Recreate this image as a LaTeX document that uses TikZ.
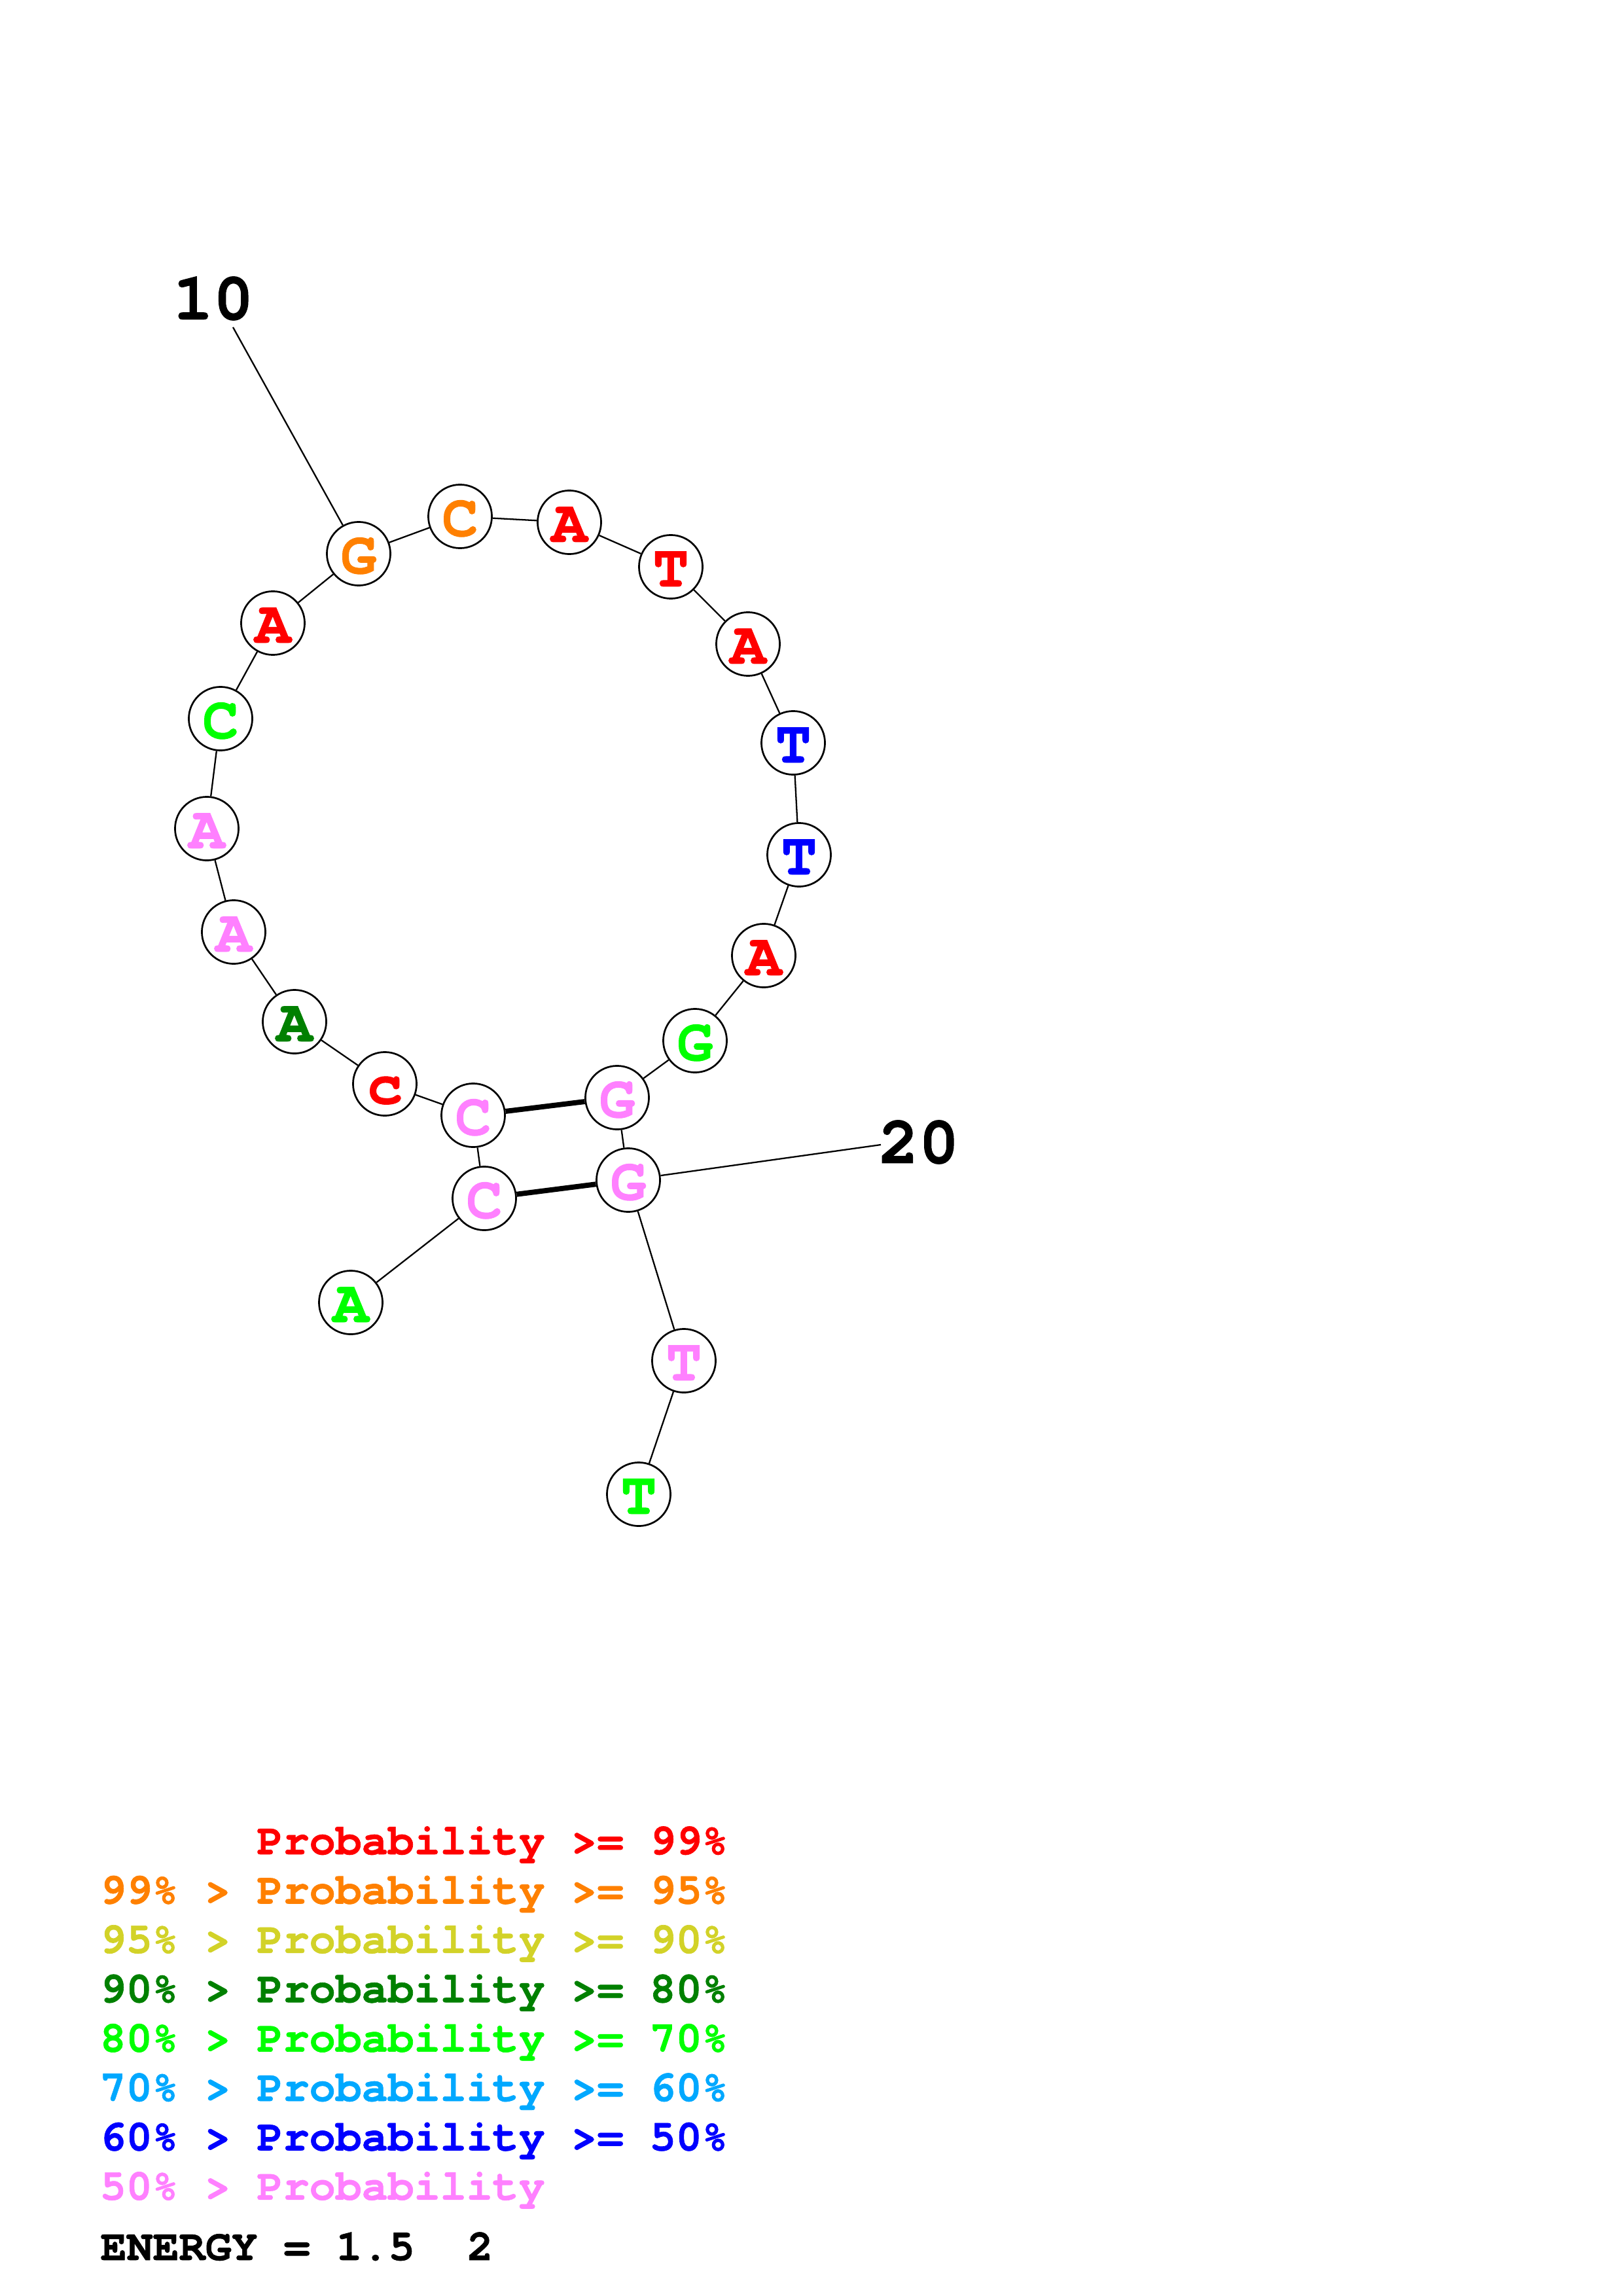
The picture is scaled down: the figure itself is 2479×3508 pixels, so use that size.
\documentclass[tikz,border=0pt]{standalone}
\usepackage{fontspec}
\setmonofont{TeX Gyre Cursor}[BoldFeatures={FakeBold=1}]

\definecolor{pr99}{RGB}{255,0,0}
\definecolor{pr95}{RGB}{255,128,0}
\definecolor{pr90}{RGB}{210,210,40}
\definecolor{pr80}{RGB}{0,128,0}
\definecolor{pr70}{RGB}{0,255,0}
\definecolor{pr60}{RGB}{0,168,255}
\definecolor{pr50}{RGB}{0,0,255}
\definecolor{prlow}{RGB}{255,128,255}

\begin{document}
\begin{tikzpicture}[x=0.24pt,y=-0.24pt,
    nt/.style={circle,draw,line width=0.65pt,fill=white,minimum size=23.3pt,inner sep=0pt,
      font=\ttfamily\bfseries\fontsize{22pt}{22pt}\selectfont,
      text height=14.4pt,text depth=0pt},
    bb/.style={line width=0.55pt},
    bp/.style={line width=1.9pt},
    numlab/.style={font=\ttfamily\bfseries\fontsize{24.6pt}{24.6pt}\selectfont},
    legend/.style={anchor=base west,font=\ttfamily\bfseries\fontsize{16pt}{16pt}\selectfont}]
    \useasboundingbox (0,0) rectangle (2479,3508);

    % Bases
    \foreach \i/\x/\y/\b/\c in {
        1/536/1990/A/pr70, 2/740/1831/C/prlow, 3/723/1704/C/prlow,
        4/588/1656/c/pr99, 5/450/1561/A/pr80, 6/357/1424/A/prlow,
        7/316/1266/A/prlow, 8/337/1098/C/pr70, 9/417/952/A/pr99,
        10/548/846/G/pr95, 11/703/789/C/pr95, 12/870/798/A/pr99,
        13/1025/866/T/pr99, 14/1143/984/A/pr99, 15/1212/1135/T/pr50,
        16/1221/1306/T/pr50, 17/1167/1460/A/pr99, 18/1062/1590/G/pr70,
        19/943/1677/G/prlow, 20/960/1803/G/prlow, 21/1045/2079/T/prlow,
        22/976/2283/T/pr70}
      \node[nt,text=\c] (n\i) at (\x,\y) {\b};

    % Backbone
    \foreach \i [count=\j from 2] in {1,...,21}
      \draw[bb] (n\i) -- (n\j);

    % Pairs
    \draw[bp] (n2) -- (n20);
    \draw[bp] (n3) -- (n19);

    % Numbering
    \coordinate (t10) at (356,500);
    \node[numlab] (l10) at (326,456) {10};
    \draw[bb] (n10) -- (t10);
    \coordinate (t20) at (1346,1749);
    \node[numlab] (l20) at (1404,1745) {20};
    \draw[bb] (n20) -- (t20);

    % Legend
    \node[legend,text=pr99] (g1) at (378,2833) {Probability >= 99\%};
    \foreach \k/\c/\t in {1/pr95/{99\% > Probability >= 95\%},
        2/pr90/{95\% > Probability >= 90\%},
        3/pr80/{90\% > Probability >= 80\%},
        4/pr70/{80\% > Probability >= 70\%},
        5/pr60/{70\% > Probability >= 60\%},
        6/pr50/{60\% > Probability >= 50\%},
        7/prlow/{50\% > Probability}}
      \node[legend,text=\c] (g\k) at (138,2833+75.4*\k) {\t};
    \node[legend] (energy) at (139,3453) {ENERGY = 1.5~~2};
  \end{tikzpicture}
\end{document}
